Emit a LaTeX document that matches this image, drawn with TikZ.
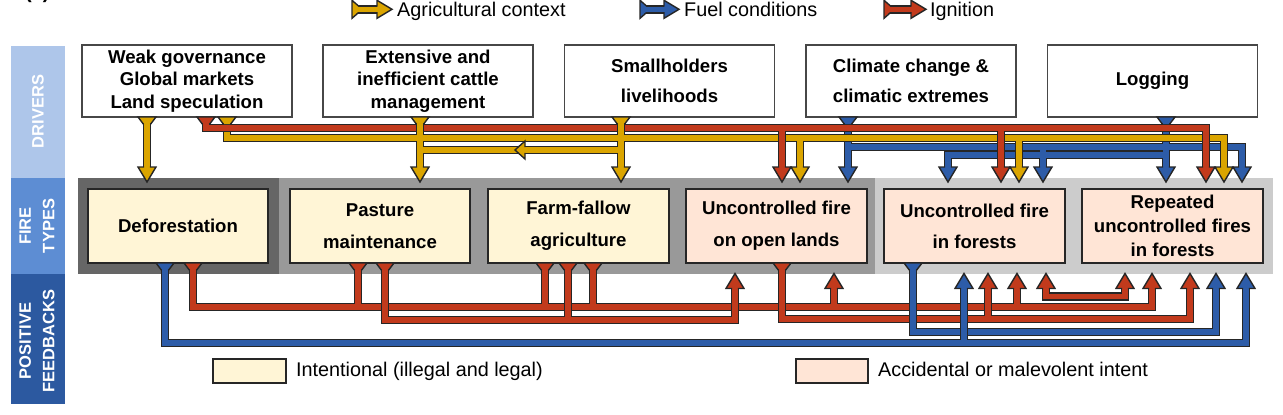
\documentclass[tikz,border=0pt]{standalone}
\usepackage{fontspec}
\setmainfont{Liberation Sans}
\definecolor{yel}{RGB}{219,165,0}
\definecolor{redc}{RGB}{194,58,28}
\definecolor{blu}{RGB}{45,92,168}
\definecolor{olc}{RGB}{38,38,38}
\definecolor{cream}{RGB}{255,245,214}
\definecolor{peach}{RGB}{255,229,214}
\definecolor{gdark}{RGB}{102,102,102}
\definecolor{gmid}{RGB}{153,153,153}
\definecolor{glight}{RGB}{204,204,204}
\definecolor{bandA}{RGB}{174,198,234}
\definecolor{bandB}{RGB}{93,141,211}
\definecolor{bandC}{RGB}{44,89,160}
\tikzset{
  bo/.style={line width=8.4pt,draw=olc,line join=miter,line cap=butt},
  bi/.style={line width=5.6pt,draw=#1,line join=miter,line cap=butt},
  olw/.style={draw=olc,line width=1.4pt,line join=miter},
  drv/.style={draw=black!72,line width=1.3pt,fill=white,minimum width=210pt,minimum height=72pt,inner sep=0pt,align=center},
  drvA/.style={drv,font=\bfseries\fontsize{18.6}{22.5}\selectfont},
  drvB/.style={drv,font=\bfseries\fontsize{18.6}{30}\selectfont},
  fire/.style={draw=olc,line width=1.5pt,minimum width=180pt,minimum height=74pt,inner sep=0pt,align=center,font=\bfseries\fontsize{18.6}{32}\selectfont},
  bandtxt/.style={rotate=90,text=white,font=\bfseries\fontsize{16.5}{23.5}\selectfont,align=center,inner sep=0pt},
  lgt/.style={anchor=base west,inner sep=0pt,font=\fontsize{19.8}{24}\selectfont},
}
\newcommand\net[2]{\draw[bo] #2;\draw[bi=#1] #2;}
\newcommand\AD[3]{%
  \fill[#3] ({#1-9},{#2-15}) -- (#1,#2) -- ({#1+9},{#2-15}) -- cycle;
  \draw[olw] ({#1-2.8},{#2-15}) -- ({#1-9},{#2-15}) -- (#1,#2) -- ({#1+9},{#2-15}) -- ({#1+2.8},{#2-15});}
\newcommand\AU[3]{%
  \fill[#3] ({#1-9},{#2+15}) -- (#1,#2) -- ({#1+9},{#2+15}) -- cycle;
  \draw[olw] ({#1-2.8},{#2+15}) -- ({#1-9},{#2+15}) -- (#1,#2) -- ({#1+9},{#2+15}) -- ({#1+2.8},{#2+15});}
\newcommand\AL[3]{%
  \fill[#3] (#1,#2) -- ({#1+10},{#2-9}) -- ({#1+10},{#2+9}) -- cycle;
  \draw[olw] ({#1+10},{#2-2.8}) -- ({#1+10},{#2-9}) -- (#1,#2) -- ({#1+10},{#2+9}) -- ({#1+10},{#2+2.8});}
\newcommand\AR[3]{%
  \fill[#3] (#1,#2) -- ({#1-15},{#2-9}) -- ({#1-15},{#2+9}) -- cycle;
  \draw[olw] ({#1-15},{#2-2.8}) -- ({#1-15},{#2-9}) -- (#1,#2) -- ({#1-15},{#2+9}) -- ({#1-15},{#2+2.8});}
\newcommand\TD[3]{%
  \fill[#3] ({#1-9},#2) -- ({#1+9},#2) -- ({#1+2.8},{#2+7}) -- ({#1-2.8},{#2+7}) -- cycle;
  \draw[olw] ({#1-3.5},{#2+7.3}) -- ({#1-9},#2) -- ({#1+9},#2) -- ({#1+3.5},{#2+7.3});}
\newcommand\TR[3]{%
  \fill[#3] (#1,{#2-9}) -- (#1,{#2+9}) -- ({#1+6},{#2+2.8}) -- ({#1+6},{#2-2.8}) -- cycle;
  \draw[olw] ({#1+6.3},{#2-3.5}) -- (#1,{#2-9}) -- (#1,{#2+9}) -- ({#1+6.3},{#2+3.5});}
\newcommand\LA[4]{%
  \draw[bo] (#1,#3) -- ({#2-14},#3);\draw[bi=#4] (#1,#3) -- ({#2-14},#3);
  \TR{#1}{#3}{#4}\AR{#2}{#3}{#4}}
\begin{document}
\begin{tikzpicture}[x=1pt,y=-1pt]
\useasboundingbox (0,0) rectangle (1283,415);
\node[anchor=base west,inner sep=0pt,font=\bfseries\fontsize{20}{24}\selectfont] (lbl) at (25,-1.5) {(a)};
% left bands
\fill[bandA] (11,46) rectangle (65,178);
\fill[bandB] (11,178) rectangle (65,274);
\fill[bandC] (11,274) rectangle (65,404);
\node[bandtxt] (tdr) at (38,111.5) {DRIVERS};
\node[bandtxt] (tft) at (37,226) {FIRE\\TYPES};
\node[bandtxt] (tpf) at (37,341) {POSITIVE\\FEEDBACKS};
% panels
\fill[gdark] (78,178) rectangle (279,274);
\fill[gmid] (279,178) rectangle (875,274);
\fill[glight] (875,178) rectangle (1273,274);
% drivers
\node[drvA] (wg) at (187,81) {Weak governance\\Global markets\\Land speculation};
\node[drvA] (ext) at (428,81) {Extensive and\\inefficient cattle\\management};
\node[drvB] (sm) at (669.5,81) {Smallholders\\livelihoods};
\node[drvB] (cc) at (911,81) {Climate change \&\\climatic extremes};
\node[drvB] (lg) at (1152.5,81) {Logging};
% fire types
\node[fire,fill=cream] (df) at (178,226) {Deforestation};
\node[fire,fill=cream] (pm) at (380,226) {Pasture\\maintenance};
\node[fire,fill=cream,minimum width=181pt] (ff) at (578.5,226) {Farm-fallow\\agriculture};
\node[fire,fill=peach,minimum width=181pt] (ol) at (776.5,226) {Uncontrolled fire\\on open lands};
\node[fire,fill=peach,minimum width=181pt,font=\bfseries\fontsize{18.6}{31}\selectfont] (uf) at (974.5,226) {Uncontrolled fire\\in forests};
\node[fire,fill=peach,minimum width=181pt,font=\bfseries\fontsize{18.6}{24}\selectfont] (rf) at (1172.5,226) {Repeated\\uncontrolled fires\\in forests};
% top legend
\LA{352}{392}{9.3}{yel}
\LA{640}{679}{9.3}{blu}
\LA{884}{926}{9.3}{redc}
\node[lgt] (l1) at (397,16.5) {Agricultural context};
\node[lgt] (l2) at (684,16.5) {Fuel conditions};
\node[lgt] (l3) at (930,16.5) {Ignition};
% bottom legend
\node[draw=olc,line width=1.5pt,fill=cream,minimum width=73pt,minimum height=24pt,inner sep=0pt] (k1) at (249.5,371) {};
\node[draw=olc,line width=1.5pt,fill=peach,minimum width=72pt,minimum height=24pt,inner sep=0pt] (k2) at (832,371) {};
\node[lgt] (k1t) at (296,376.7) {Intentional (illegal and legal)};
\node[lgt] (k2t) at (878,376.7) {Accidental or malevolent intent};
% ---- top connectors
\net{blu}{(848,117) -- (848,168) (848,146.7) -- (1242,146.7) -- (1242,168) (1043,146.7) -- (1043,168) (1166,117) -- (1166,168) (1166,155) -- (948,155) -- (948,168)}
\net{yel}{(147,117) -- (147,168) (227,117) -- (227,137.7) -- (1224,137.7) -- (1224,168) (800,137.7) -- (800,168) (1019,137.7) -- (1019,168) (420,117) -- (420,168) (621,117) -- (621,168) (621,150) -- (420,150)}
\net{redc}{(206,117) -- (206,127.8) -- (1206,127.8) -- (1206,168) (782,127.8) -- (782,168) (1001,127.8) -- (1001,168)}
\draw[bo] (420,121) -- (420,134) (621,121) -- (621,134);
\draw[bi=yel] (420,120) -- (420,135.3) (621,120) -- (621,135.3);
\AL{515}{150}{yel}
% ---- bottom connectors
\net{redc}{(193,263) -- (193,306.7) -- (1152,306.7) -- (1152,287.5) (358,263) -- (358,306.7) (545,263) -- (545,306.7) (593,263) -- (593,306.7) (834,306.7) -- (834,287.5) (1017,306.7) -- (1017,287.5)}
\net{redc}{(1046,287.5) -- (1046,296.5) -- (1125,296.5) -- (1125,287.5)}
\net{redc}{(385,263) -- (385,320) -- (735,320) -- (735,287.5) (568,263) -- (568,320)}
\net{redc}{(782,263) -- (782,319) -- (1190,319) -- (1190,287.5) (988,319) -- (988,287.5)}
\net{blu}{(913,263) -- (913,331.7) -- (1216,331.7) -- (1216,287.5)}
\net{blu}{(165,263) -- (165,342.8) -- (1246,342.8) -- (1246,287.5) (964,342.8) -- (964,287.5)}
% tails
\TD{147}{117}{yel}\TD{206}{117}{redc}\TD{227}{117}{yel}\TD{420}{117}{yel}\TD{621}{117}{yel}\TD{848}{117}{blu}\TD{1166}{117}{blu}
\TD{165}{263}{blu}\TD{193}{263}{redc}\TD{358}{263}{redc}\TD{385}{263}{redc}\TD{545}{263}{redc}\TD{568}{263}{redc}\TD{593}{263}{redc}\TD{782}{263}{redc}\TD{913}{263}{blu}
% heads
\AD{147}{182}{yel}\AD{420}{182}{yel}\AD{621}{182}{yel}\AD{800}{182}{yel}\AD{1019}{182}{yel}\AD{1224}{182}{yel}
\AD{782}{182}{redc}\AD{1001}{182}{redc}\AD{1206}{182}{redc}
\AD{848}{182}{blu}\AD{948}{182}{blu}\AD{1043}{182}{blu}\AD{1166}{182}{blu}\AD{1242}{182}{blu}
\AU{735}{273.5}{redc}\AU{834}{273.5}{redc}\AU{988}{273.5}{redc}\AU{1017}{273.5}{redc}\AU{1046}{273.5}{redc}\AU{1125}{273.5}{redc}\AU{1152}{273.5}{redc}\AU{1190}{273.5}{redc}
\AU{964}{273.5}{blu}\AU{1216}{273.5}{blu}\AU{1246}{273.5}{blu}
\end{tikzpicture}
\end{document}
